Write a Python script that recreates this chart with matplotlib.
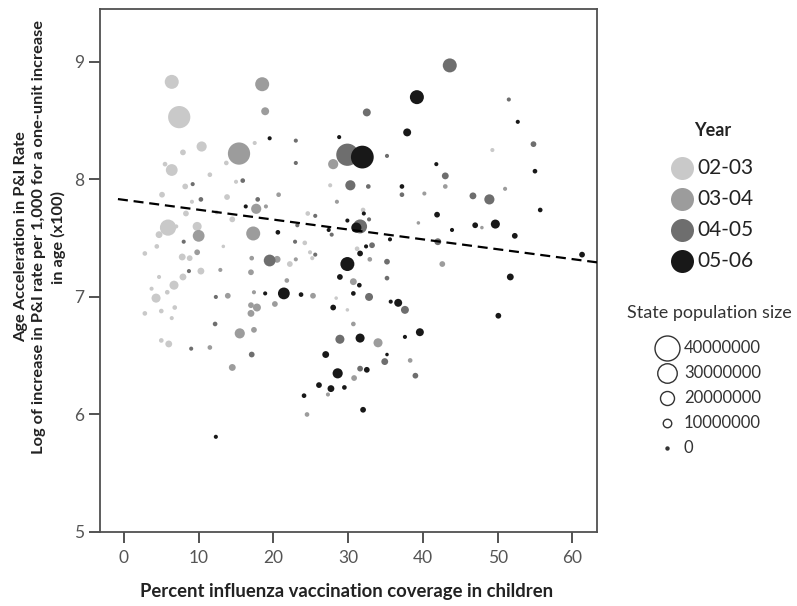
import numpy as np
import matplotlib
matplotlib.use('Agg')
import matplotlib.pyplot as plt

plt.rcParams['font.family'] = ['Lato', 'DejaVu Sans']

# season 2002-03
x_0203 = [6.4, 7.4, 49.3, 32.0, 31.2, 10.4, 7.9, 17.5, 13.7, 6.4, 5.5, 11.5, 15.0, 8.2, 5.1, 13.8, 9.1,
          8.3, 12.4, 14.5, 5.9, 4.7, 7.0, 9.8, 24.6, 4.4, 2.8, 13.3, 7.8, 8.8, 22.2, 10.3, 4.7, 7.9,
          6.7, 3.7, 5.8, 4.3, 6.8, 5.0, 2.8, 6.4, 5.0, 6.0, 27.6, 24.2, 24.9, 25.2, 28.4, 29.9]
y_0203 = [8.83, 8.53, 8.25, 7.74, 7.41, 8.28, 8.23, 8.31, 8.14, 8.08, 8.13, 8.04, 7.98, 7.94, 7.87, 7.85, 7.81,
          7.71, 7.72, 7.66, 7.59, 7.53, 7.60, 7.60, 7.71, 7.43, 7.37, 7.43, 7.34, 7.33, 7.28, 7.22, 7.17, 7.17,
          7.10, 7.07, 7.04, 6.99, 6.91, 6.88, 6.86, 6.82, 6.63, 6.60, 7.95, 7.46, 7.38, 7.33, 6.99, 6.89]
pop_0203 = [20, 35, 2, 3, 3, 13, 5, 2, 3, 16, 3, 3, 2, 5, 5, 5, 2,
            5, 2, 5, 24, 7, 2, 11, 3, 3, 3, 1, 7, 5, 5, 7, 2, 7,
            11, 2, 3, 11, 3, 3, 3, 2, 3, 7, 2, 3, 2, 2, 1, 1]

# season 2003-04
x_0304 = [18.5, 18.9, 28.0, 43.0, 40.2, 51.0, 47.9, 39.4, 42.6, 15.4, 20.7, 17.7, 19.0, 10.0, 17.3, 9.8,
          20.5, 17.1, 12.9, 17.0, 13.9, 17.4, 21.8, 17.0, 17.8, 17.0, 20.2, 17.4, 15.5, 11.5, 14.5, 28.5,
          23.0, 32.9, 30.7, 25.3, 30.7, 34.0, 38.3, 30.8, 27.3, 24.5]
y_0304 = [8.81, 8.58, 8.13, 7.94, 7.88, 7.92, 7.59, 7.63, 7.28, 8.22, 7.87, 7.75, 7.77, 7.52, 7.54, 7.38,
          7.32, 7.33, 7.23, 7.21, 7.01, 7.04, 7.14, 6.93, 6.91, 6.86, 6.94, 6.72, 6.69, 6.57, 6.40, 7.81,
          7.32, 7.32, 7.13, 7.01, 6.77, 6.61, 6.46, 6.31, 6.17, 6.00]
pop_0304 = [20, 9, 13, 3, 2, 2, 1, 1, 5, 35, 3, 13, 2, 16, 20, 5,
            7, 3, 2, 5, 5, 2, 3, 5, 9, 7, 5, 5, 13, 3, 7, 2,
            2, 3, 7, 5, 3, 11, 3, 5, 2, 3]

# season 2004-05
x_0405 = [43.6, 32.5, 51.5, 29.9, 35.2, 54.8, 43.0, 37.2, 46.7, 48.9, 42.0, 31.6, 32.8, 33.2, 23.0, 23.0,
          15.9, 9.2, 10.3, 17.9, 25.6, 8.0, 19.5, 8.7, 12.3, 12.2, 9.0, 17.1, 30.3, 32.7, 23.2, 27.8,
          22.9, 25.6, 35.2, 35.2, 32.8, 37.6, 28.9, 34.9, 39.0, 31.6]
y_0405 = [8.97, 8.57, 8.68, 8.21, 8.20, 8.30, 8.03, 7.87, 7.86, 7.83, 7.47, 7.60, 7.66, 7.44, 8.33, 8.14,
          7.99, 7.96, 7.83, 7.83, 7.69, 7.47, 7.31, 7.22, 7.00, 6.77, 6.56, 6.51, 7.95, 7.94, 7.61, 7.53,
          7.47, 7.36, 7.30, 7.16, 7.00, 6.89, 6.64, 6.45, 6.33, 6.39]
pop_0405 = [20, 9, 2, 35, 2, 5, 7, 3, 7, 13, 7, 20, 2, 5, 2, 2,
            3, 2, 3, 3, 2, 2, 16, 2, 2, 3, 2, 5, 13, 3, 2, 2,
            2, 2, 5, 3, 9, 9, 11, 7, 5, 5]

# season 2005-06
x_0506 = [39.2, 37.9, 52.7, 28.8, 31.9, 55.0, 41.8, 37.2, 55.7, 41.9, 49.7, 47.0, 43.9, 52.3, 35.6, 31.1,
          29.9, 32.1, 32.4, 61.3, 51.7, 50.1, 19.5, 16.3, 20.6, 18.9, 21.4, 12.3, 27.4, 31.6, 29.9, 28.9,
          31.5, 23.7, 30.7, 35.7, 36.7, 28.0, 31.6, 39.6, 37.6, 27.0, 35.2, 28.6, 32.5, 26.1, 27.7, 29.5,
          24.1, 32.0]
y_0506 = [8.70, 8.40, 8.49, 8.36, 8.19, 8.07, 8.13, 7.94, 7.74, 7.70, 7.62, 7.61, 7.57, 7.52, 7.49, 7.59,
          7.65, 7.71, 7.43, 7.36, 7.17, 6.84, 8.35, 7.77, 7.55, 7.03, 7.03, 5.81, 7.57, 7.37, 7.28, 7.17,
          7.10, 7.02, 7.03, 6.96, 6.95, 6.91, 6.65, 6.70, 6.66, 6.51, 6.51, 6.35, 6.38, 6.25, 6.22, 6.23,
          6.16, 6.04]
pop_0506 = [20, 9, 2, 2, 36, 3, 2, 3, 3, 5, 11, 5, 2, 5, 2, 13,
            2, 2, 2, 5, 7, 5, 2, 2, 3, 2, 16, 2, 2, 5, 20, 5,
            3, 3, 3, 2, 9, 5, 11, 9, 2, 7, 1, 13, 5, 5, 7, 3,
            3, 5]

years = ['02-03', '03-04', '04-05', '05-06']
year_colors = ['#c9c9c9', '#9c9c9c', '#6e6e6e', '#181818']
size_levels = [40000000, 30000000, 20000000, 10000000, 0]

# fit line
fit_intercept = 7.826
fit_slope = -0.0084
fit_x = [-0.8, 63.3]


def msize(pop_m):
    d_px = 3 + 0.55 * np.asarray(pop_m, dtype=float)
    return (d_px * 0.72) ** 2


fig = plt.figure(figsize=(7.97, 6.06), dpi=100)
ax = fig.add_axes([100 / 797, 1 - 532 / 606, 497 / 797, 523 / 606])

series = [(x_0203, y_0203, pop_0203), (x_0304, y_0304, pop_0304),
          (x_0405, y_0405, pop_0405), (x_0506, y_0506, pop_0506)]
for (xs, ys, ps), c in zip(series, year_colors):
    ax.scatter(xs, ys, s=msize(ps), c=c, lw=0, zorder=2)

fx = np.array(fit_x)
ax.plot(fx, fit_intercept + fit_slope * fx, color='black', lw=1.6, dashes=(4.5, 2.6), zorder=3)

ax.set_xlim(-3.2, 63.3)
ax.set_ylim(5, 9.45)
ax.set_xticks(range(0, 61, 10))
ax.set_yticks(range(5, 10))
for sp in ax.spines.values():
    sp.set_color('#505050')
    sp.set_linewidth(1.3)
ax.tick_params(direction='out', length=8, width=1.3, color='#444444',
               labelcolor='#555555', labelsize=12.5)
ax.tick_params(axis='x', pad=5)

fig.text(347 / 797, 1 - 592 / 606, 'Percent influenza vaccination coverage in children',
         ha='center', va='center', fontsize=13.3, fontweight='bold', color='#222222')
fig.text(40 / 797, 1 - 237 / 606,
         'Age Acceleration in P&I Rate\nLog of increase in P&I rate per 1,000 for a one-unit increase\nin age (x100)',
         ha='center', va='center', rotation=90, multialignment='center', linespacing=1.4,
         fontsize=11.8, fontweight='bold', color='#222222')

# legend panel in pixel coordinates
lax = fig.add_axes([0, 0, 1, 1], zorder=5)
lax.set_xlim(0, 797)
lax.set_ylim(606, 0)
lax.axis('off')

lax.text(713, 130, 'Year', ha='center', va='center', fontsize=13, fontweight='bold', color='#222222')
for i, (lab, c) in enumerate(zip(years, year_colors)):
    yy = 168 + i * 31
    lax.scatter([682], [yy], s=(23 * 0.72) ** 2, c=c, lw=0)
    lax.text(697, yy, lab, ha='left', va='center', fontsize=15, color='#222222')

lax.text(709, 313, 'State population size', ha='center', va='center', fontsize=13, color='#333333')
for i, lev in enumerate(size_levels):
    yy = 348 + i * 25
    lax.scatter([667], [yy], s=msize(lev / 1e6), facecolors='white' if lev > 0 else '#333333',
                edgecolors='#333333', lw=1.0)
    lax.text(684, yy, str(lev), ha='left', va='center', fontsize=12, color='#333333')

fig.savefig('out.png', dpi=100)
